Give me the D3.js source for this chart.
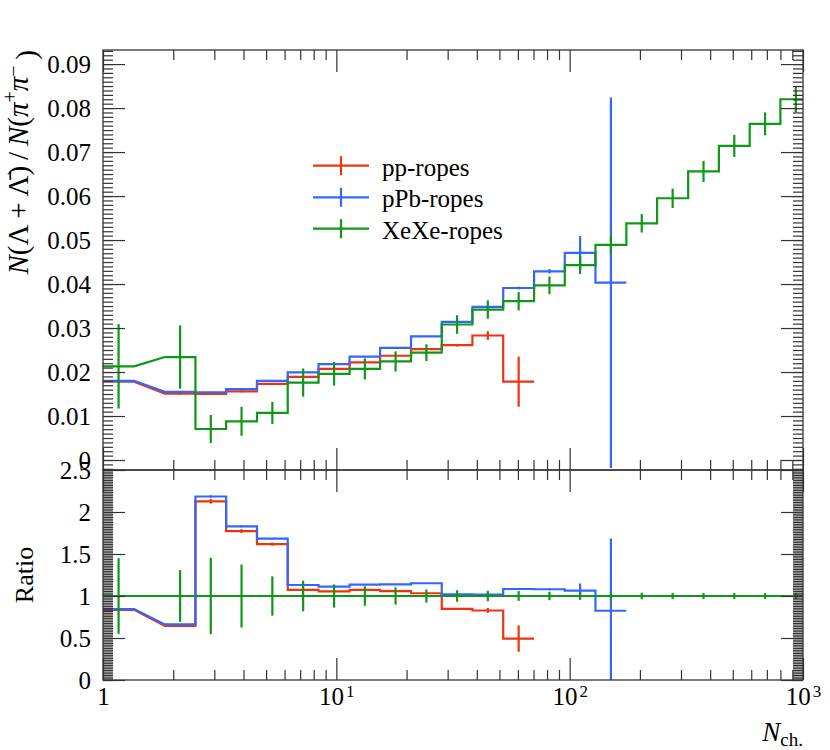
<!DOCTYPE html>
<html>
<head>
<meta charset="utf-8">
<script src="https://cdn.jsdelivr.net/npm/d3@7/dist/d3.min.js"></script>
<style>
body { margin: 0; background: #fff; }
svg text { font-family: "Liberation Serif", "DejaVu Serif", serif; fill: #000; }
</style>
</head>
<body>
<svg width="830" height="750"></svg>
<script>
// bin edges in N_ch (log spaced)
const binEdges = [1.0, 1.36, 1.84, 2.49, 3.37, 4.57, 6.19, 8.39, 11.4, 15.4, 20.9, 28.3,
                  38.3, 51.9, 70.4, 95.3, 129, 175, 237, 322, 436, 591, 800, 1085];

const ppVals  = [0.0178, null, 0.0151, 0.0150, 0.0156, 0.0173, 0.0189, 0.0207, 0.0222, 0.0237, 0.0252, 0.0261, 0.0283, 0.0178];
const ppErrs  = [0.0002, null, 0.0002, 0.0002, 0.0002, 0.0002, 0.0002, 0.0002, 0.0002, 0.0002, 0.0002, 0.0003, 0.0010, 0.0057];

const pPbVals = [0.0180, null, 0.0155, 0.0154, 0.0161, 0.0180, 0.0199, 0.0218, 0.0235, 0.0255, 0.0281, 0.0314, 0.0348, 0.0391, 0.0429, 0.0471, 0.0403];
const pPbErrs = [0.0001, null, 0.0001, 0.0001, 0.0001, 0.0001, 0.0001, 0.0001, 0.0001, 0.0001, 0.0001, 0.0002, 0.0002, 0.0003, 0.0005, 0.0038, 0.0421];

const xeVals  = [0.0213, null, 0.0234, 0.00705, 0.0088, 0.0107, 0.0176, 0.0196, 0.0207, 0.0224, 0.0244, 0.0308,
                 0.0342, 0.0361, 0.0397, 0.0443, 0.0489, 0.0538, 0.0595, 0.0656, 0.0714, 0.0764, 0.0820];
const xeErrs  = [0.0096, null, 0.0072, 0.0032, 0.0033, 0.0025, 0.0032, 0.0027, 0.0024, 0.0023, 0.0019, 0.0021,
                 0.0021, 0.0021, 0.0020, 0.0020, 0.0021, 0.0021, 0.0022, 0.0024, 0.0025, 0.0026, 0.0030];

const seriesNames  = ['pp-ropes', 'pPb-ropes', 'XeXe-ropes'];
const seriesColors = ['#EE3311', '#3366FF', '#109618'];

const yTopTicks    = [0, 0.01, 0.02, 0.03, 0.04, 0.05, 0.06, 0.07, 0.08, 0.09];
const yTopLabels   = ['0', '0.01', '0.02', '0.03', '0.04', '0.05', '0.06', '0.07', '0.08', '0.09'];
const yRatioTicks  = [0, 0.5, 1, 1.5, 2, 2.5];
const yRatioLabels = ['0', '0.5', '1', '1.5', '2', '2.5'];
const xMajorTicks  = [1, 10, 100, 1000];
const xExponents   = ['', '1', '2', '3'];

const L = 103, R = 803, topT = 50, topB = 470, ratT = 470, ratB = 680;
const FS = 25;

const svg = d3.select('svg');

const x = d3.scaleLog().domain([1, 1000]).range([L, R]);
const yTop = d3.scaleLinear().domain([-0.00227, 0.0932]).range([topB, topT]);
const yRat = d3.scaleLinear().domain([0, 2.5]).range([ratB, ratT]);

const defs = svg.append('defs');
defs.append('clipPath').attr('id', 'clipTop')
  .append('rect').attr('x', L).attr('y', topT).attr('width', R - L).attr('height', topB - topT);
defs.append('clipPath').attr('id', 'clipRat')
  .append('rect').attr('x', L).attr('y', ratT).attr('width', R - L).attr('height', ratB - ratT);

const series = [
  {vals: ppVals, errs: ppErrs},
  {vals: pPbVals, errs: pPbErrs},
  {vals: xeVals, errs: xeErrs}
];

// ratio to XeXe
series.forEach(s => {
  s.rVals = s.vals.map((v, i) => (v == null || xeVals[i] == null) ? null : v / xeVals[i]);
  s.rErrs = s.errs.map((e, i) => (e == null || xeVals[i] == null) ? null : e / xeVals[i]);
});

function stepPoints(vals) {
  const pts = [];
  vals.forEach((v, i) => {
    if (v == null) return;
    pts.push([binEdges[i], v], [binEdges[i + 1], v]);
  });
  return pts;
}

function drawPanel(g, y, key, errKey) {
  const line = d3.line().x(d => x(d[0])).y(d => y(d[1]));
  series.forEach((s, si) => {
    const col = seriesColors[si];
    const vals = s[key], errs = s[errKey];
    g.append('path')
      .attr('d', line(stepPoints(vals)))
      .attr('fill', 'none')
      .attr('stroke', col)
      .attr('stroke-width', 2.2)
      .attr('stroke-linejoin', 'miter');
    const bars = vals.map((v, i) => ({v, e: errs[i], i})).filter(d => d.v != null);
    g.selectAll(null).data(bars).enter().append('line')
      .attr('x1', d => x(Math.sqrt(binEdges[d.i] * binEdges[d.i + 1])))
      .attr('x2', d => x(Math.sqrt(binEdges[d.i] * binEdges[d.i + 1])))
      .attr('y1', d => y(d.v - d.e))
      .attr('y2', d => y(d.v + d.e))
      .attr('stroke', col)
      .attr('stroke-width', 2.2);
  });
}

drawPanel(svg.append('g').attr('clip-path', 'url(#clipTop)'), yTop, 'vals', 'errs');
drawPanel(svg.append('g').attr('clip-path', 'url(#clipRat)'), yRat, 'rVals', 'rErrs');

// axes / ticks
const tickCol = '#333';
const xMinor = x.ticks().filter(t => !xMajorTicks.includes(t));

function styleAxis(g) {
  g.select('.domain').remove();
  g.selectAll('line').attr('stroke', tickCol).attr('stroke-width', 1.2);
  g.attr('font-family', null).attr('font-size', null);
  g.selectAll('text').attr('font-size', FS).style('font-family', '"Liberation Serif", serif');
  return g;
}

function yAxes(y, ticks, labels) {
  const minor = y.ticks(100);
  styleAxis(svg.append('g').attr('transform', `translate(${L},0)`)
    .call(d3.axisLeft(y).tickValues(minor).tickSize(-10).tickFormat('')));
  styleAxis(svg.append('g').attr('transform', `translate(${L},0)`)
    .call(d3.axisLeft(y).tickValues(ticks).tickSize(-22).tickPadding(12)
      .tickFormat((d, i) => labels[i])));
  styleAxis(svg.append('g').attr('transform', `translate(${R},0)`)
    .call(d3.axisRight(y).tickValues(minor).tickSize(-10).tickFormat('')));
  styleAxis(svg.append('g').attr('transform', `translate(${R},0)`)
    .call(d3.axisRight(y).tickValues(ticks).tickSize(-22).tickFormat('')));
}
yAxes(yTop, yTopTicks, yTopLabels);
yAxes(yRat, yRatioTicks, yRatioLabels);

function xTicks(yPos, dir) {
  const ax = dir === 'up' ? d3.axisBottom : d3.axisTop;
  // ticks pointing into the panel
  styleAxis(svg.append('g').attr('transform', `translate(0,${yPos})`)
    .call(ax(x).tickValues(xMinor).tickSize(-10).tickFormat('')));
  styleAxis(svg.append('g').attr('transform', `translate(0,${yPos})`)
    .call(ax(x).tickValues(xMajorTicks).tickSize(-22).tickFormat('')));
}
xTicks(topT, 'down');
xTicks(topB, 'up');
xTicks(ratT, 'down');

styleAxis(svg.append('g').attr('transform', `translate(0,${ratB})`)
  .call(d3.axisBottom(x).tickValues(xMinor).tickSize(-10).tickFormat('')));
const xMaj = styleAxis(svg.append('g').attr('transform', `translate(0,${ratB})`)
  .call(d3.axisBottom(x).tickValues(xMajorTicks).tickSize(-22).tickPadding(7).tickFormat('')));
xMaj.selectAll('.tick').each(function(d, i) {
  const t = d3.select(this).select('text').text(null);
  if (xExponents[i] === '') {
    t.append('tspan').text('1');
  } else {
    t.append('tspan').text('10');
    t.append('tspan').attr('dy', '-0.45em').attr('dx', '2').attr('font-size', 17).text(xExponents[i]);
  }
});

// frames
[[topT, topB], [ratT, ratB]].forEach(([a, b]) => {
  svg.append('rect').attr('x', L).attr('y', a).attr('width', R - L).attr('height', b - a)
    .attr('fill', 'none').attr('stroke', tickCol).attr('stroke-width', 1.3);
});

// axis titles
const yt = svg.append('text')
  .attr('transform', `translate(28,${topT}) rotate(-90)`)
  .attr('text-anchor', 'end')
  .attr('font-size', 29);
yt.append('tspan').attr('font-style', 'italic').text('N');
yt.append('tspan').text('(Λ\u2009+\u2009Λ\u0304)\u2009/\u2009');
yt.append('tspan').attr('font-style', 'italic').text('N');
yt.append('tspan').text('(');
yt.append('tspan').attr('font-style', 'italic').text('π');
yt.append('tspan').attr('font-size', 20).attr('dy', '-0.55em').text('+');
yt.append('tspan').attr('font-style', 'italic').attr('dy', '0.38em').text('π');
yt.append('tspan').attr('font-size', 20).attr('dy', '-0.38em').text('−');
yt.append('tspan').attr('dy', '0.55em').text('\u2009)');

svg.append('text')
  .attr('transform', `translate(33,${(ratT + ratB) / 2}) rotate(-90)`)
  .attr('text-anchor', 'middle')
  .attr('font-size', 26)
  .text('Ratio');

const xt = svg.append('text')
  .attr('x', R).attr('y', 741)
  .attr('text-anchor', 'end')
  .attr('font-size', 27);
xt.append('tspan').attr('font-style', 'italic').text('N');
xt.append('tspan').attr('font-size', 19).attr('dy', '0.25em').text('ch.');

// legend
const legY = [165.7, 197.3, 228.7];
const leg = svg.append('g');
seriesNames.forEach((name, i) => {
  const g = leg.append('g').attr('transform', `translate(0,${legY[i]})`);
  g.append('line').attr('x1', 313).attr('x2', 369).attr('y1', 0).attr('y2', 0)
    .attr('stroke', seriesColors[i]).attr('stroke-width', 2.2);
  g.append('line').attr('x1', 341).attr('x2', 341).attr('y1', -9.5).attr('y2', 9.5)
    .attr('stroke', seriesColors[i]).attr('stroke-width', 2.2);
  g.append('text').attr('x', 382).attr('y', 10).attr('font-size', FS).text(name);
});
</script>
</body>
</html>
